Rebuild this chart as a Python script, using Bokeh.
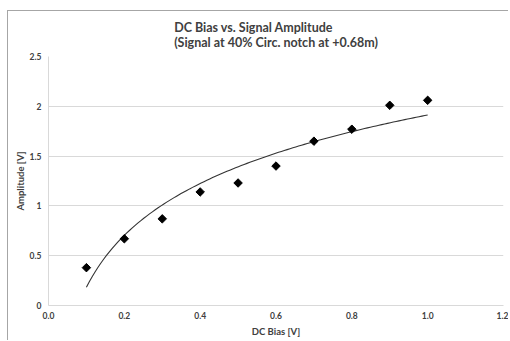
import numpy as np
from bokeh.plotting import figure
from bokeh.models import FixedTicker, Range1d
from bokeh.embed import file_html
from bokeh.resources import INLINE

# ---- data ----
dc_bias = [0.1, 0.2, 0.3, 0.4, 0.5, 0.6, 0.7, 0.8, 0.9, 1.0]
amplitude = [0.38, 0.67, 0.87, 1.14, 1.23, 1.40, 1.65, 1.77, 2.01, 2.06]
x_ticks = [0.0, 0.2, 0.4, 0.6, 0.8, 1.0, 1.2]
x_tick_labels = ["0.0", "0.2", "0.4", "0.6", "0.8", "1.0", "1.2"]
y_ticks = [0, 0.5, 1, 1.5, 2, 2.5]
y_tick_labels = ["0", "0.5", "1", "1.5", "2", "2.5"]
title_lines = ["DC Bias vs. Signal Amplitude", "(Signal at 40% Circ. notch at +0.68m)"]
x_label = "DC Bias [V]"
y_label = "Amplitude [V]"

# logarithmic trendline (least-squares fit, like Excel's trendline)
a, b = np.polyfit(np.log(dc_bias), amplitude, 1)
trend_x = np.linspace(min(dc_bias), max(dc_bias), 120)
trend_y = a * np.log(trend_x) + b

FONT = "Lato"
GRID = "#d9d9d9"
TXT = "#404040"

p = figure(width=501, height=330, output_backend="svg", toolbar_location=None,
           x_range=Range1d(0, 1.2), y_range=Range1d(0, 2.5),
           min_border_left=40, min_border_right=6, min_border_top=44, min_border_bottom=36)

p.margin = (10, 0, 0, 7)
p.styles = {"border-left": "1px solid #a6a6a6", "border-top": "1px solid #a6a6a6"}

p.title.text = "\n".join(title_lines)
p.title.align = "center"
p.title.text_font = FONT
p.title.text_font_size = "12.5px"
p.title.text_font_style = "bold"
p.title.text_color = TXT
p.title.text_line_height = 0.95
p.title.standoff = 14

p.outline_line_color = None
p.background_fill_color = "white"
p.border_fill_color = "white"

p.xgrid.grid_line_color = None
p.ygrid.grid_line_color = GRID
p.ygrid.grid_line_width = 1

p.xaxis.ticker = FixedTicker(ticks=x_ticks)
p.xaxis.major_label_overrides = {t: l for t, l in zip(x_ticks, x_tick_labels)}
p.yaxis.ticker = FixedTicker(ticks=y_ticks)
p.yaxis.major_label_overrides = {t: l for t, l in zip(y_ticks, y_tick_labels)}

for ax in (p.xaxis, p.yaxis):
    ax.axis_line_color = GRID
    ax.major_tick_line_color = None
    ax.minor_tick_line_color = None
    ax.major_tick_out = 0
    ax.major_label_text_font = FONT
    ax.major_label_text_font_size = "8.5px"
    ax.major_label_text_font_style = "bold"
    ax.major_label_text_color = TXT
    ax.axis_label_text_font = FONT
    ax.axis_label_text_font_size = "9.5px"
    ax.axis_label_text_font_style = "bold"
    ax.axis_label_text_color = TXT

p.xaxis.axis_label = x_label
p.yaxis.axis_label = y_label
p.xaxis.major_label_standoff = 6
p.xaxis.axis_label_standoff = 4
p.yaxis.major_label_standoff = 7
p.yaxis.axis_label_standoff = 1

p.line(trend_x, trend_y, line_color="#333333", line_width=1.1)
p.scatter(dc_bias, amplitude, marker="square", angle=np.pi / 4, size=6,
          fill_color="black", line_color="black")

open("out.html", "w").write(file_html(p, INLINE))
